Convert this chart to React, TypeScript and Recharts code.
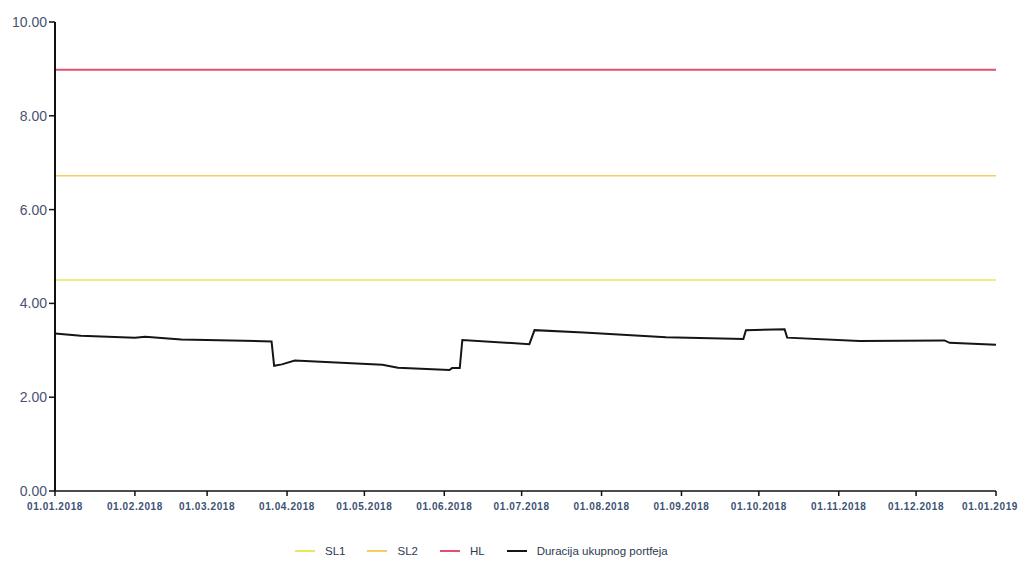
import React from "react";
import { LineChart, Line, XAxis, YAxis, Legend } from "recharts";

// Day offsets from 01.01.2018
const durDays = [0, 10, 31, 35, 40, 49, 84, 85, 88, 93, 127, 133, 153, 154, 157, 158, 184, 186, 205, 237, 267, 268, 283, 284, 312, 345, 347, 365];
const durValues = [3.36, 3.31, 3.27, 3.29, 3.27, 3.23, 3.19, 2.67, 2.7, 2.78, 2.69, 2.63, 2.58, 2.62, 2.62, 3.22, 3.13, 3.43, 3.38, 3.28, 3.24, 3.43, 3.45, 3.27, 3.2, 3.21, 3.16, 3.12];

const limitDays = [0, 365];
const sl1Values = [4.5, 4.5];
const sl2Values = [6.72, 6.72];
const hlValues = [8.98, 8.98];

const tickDays = [0, 31, 59, 90, 120, 151, 181, 212, 243, 273, 304, 334, 365];
const tickLabels = ["01.01.2018", "01.02.2018", "01.03.2018", "01.04.2018", "01.05.2018", "01.06.2018", "01.07.2018", "01.08.2018", "01.09.2018", "01.10.2018", "01.11.2018", "01.12.2018", "01.01.2019"];
const yTicks = [0, 2, 4, 6, 8, 10];
const yLabels = ["0.00", "2.00", "4.00", "6.00", "8.00", "10.00"];

const durData = durDays.map((d, i) => ({ day: d, dur: durValues[i] }));
const sl1Data = limitDays.map((d, i) => ({ day: d, v: sl1Values[i] }));
const sl2Data = limitDays.map((d, i) => ({ day: d, v: sl2Values[i] }));
const hlData = limitDays.map((d, i) => ({ day: d, v: hlValues[i] }));

const legendItems = [
  { label: "SL1", color: "#e6ea5a" },
  { label: "SL2", color: "#f3cf62" },
  { label: "HL", color: "#e0506f" },
  { label: "Duracija ukupnog portfeja", color: "#151515" },
];

const LegendContent = () => (
  <div style={{ display: "flex", justifyContent: "flex-start", paddingLeft: 287, fontFamily: "Liberation Sans, Arial, sans-serif", fontSize: 11.5, color: "#2f3a52", height: 20, alignItems: "center" }}>
    {legendItems.map((it) => (
      <div key={it.label} style={{ display: "flex", alignItems: "center", marginRight: 22 }}>
        <div style={{ width: 20, height: 2, background: it.color, marginRight: 10 }} />
        <span>{it.label}</span>
      </div>
    ))}
  </div>
);

const XTick = (props: any) => {
  const { x, y, payload, index } = props;
  const label = tickLabels[tickDays.indexOf(payload.value)];
  const shift = index === tickDays.length - 1 ? -6 : 0;
  return (
    <text
      x={x + shift}
      y={y}
      dy={12}
      textAnchor="middle"
      fill="#3a5274"
      fontSize={10}
      fontWeight={700}
      letterSpacing={0.6}
      fontFamily="Liberation Sans, Arial, sans-serif"
    >
      {label}
    </text>
  );
};

export default function App() {
  return (
    <div style={{ width: 1011, height: 553, background: "#fff" }}>
      <LineChart width={1011} height={553} margin={{ top: 14, right: 23, left: 0, bottom: 0 }}>
        <XAxis
          dataKey="day"
          type="number"
          domain={[0, 365]}
          ticks={tickDays}
          axisLine={{ stroke: "#111", strokeWidth: 1.5 }}
          tickLine={{ stroke: "#111", strokeWidth: 1.5 }}
          tickSize={5}
          height={50}
          tick={<XTick />}
          interval={0}
        />
        <YAxis
          type="number"
          domain={[0, 10]}
          ticks={yTicks}
          tickFormatter={(v: number) => yLabels[yTicks.indexOf(v)]}
          axisLine={{ stroke: "#111", strokeWidth: 2 }}
          tickLine={{ stroke: "#111", strokeWidth: 1.5 }}
          tickSize={6}
          width={47}
          tick={{ fill: "#4a5270", fontSize: 14, fontFamily: "Liberation Sans, Arial, sans-serif" }}
        />
        <Legend verticalAlign="bottom" height={20} content={<LegendContent />} />
        <Line data={sl1Data} dataKey="v" name="SL1" stroke="#e6ea5a" strokeWidth={1.5} dot={false} isAnimationActive={false} />
        <Line data={sl2Data} dataKey="v" name="SL2" stroke="#f3cf62" strokeWidth={1.5} dot={false} isAnimationActive={false} />
        <Line data={hlData} dataKey="v" name="HL" stroke="#e0506f" strokeWidth={2} dot={false} isAnimationActive={false} />
        <Line data={durData} dataKey="dur" name="Duracija ukupnog portfeja" stroke="#151515" strokeWidth={2} dot={false} isAnimationActive={false} />
      </LineChart>
    </div>
  );
}
